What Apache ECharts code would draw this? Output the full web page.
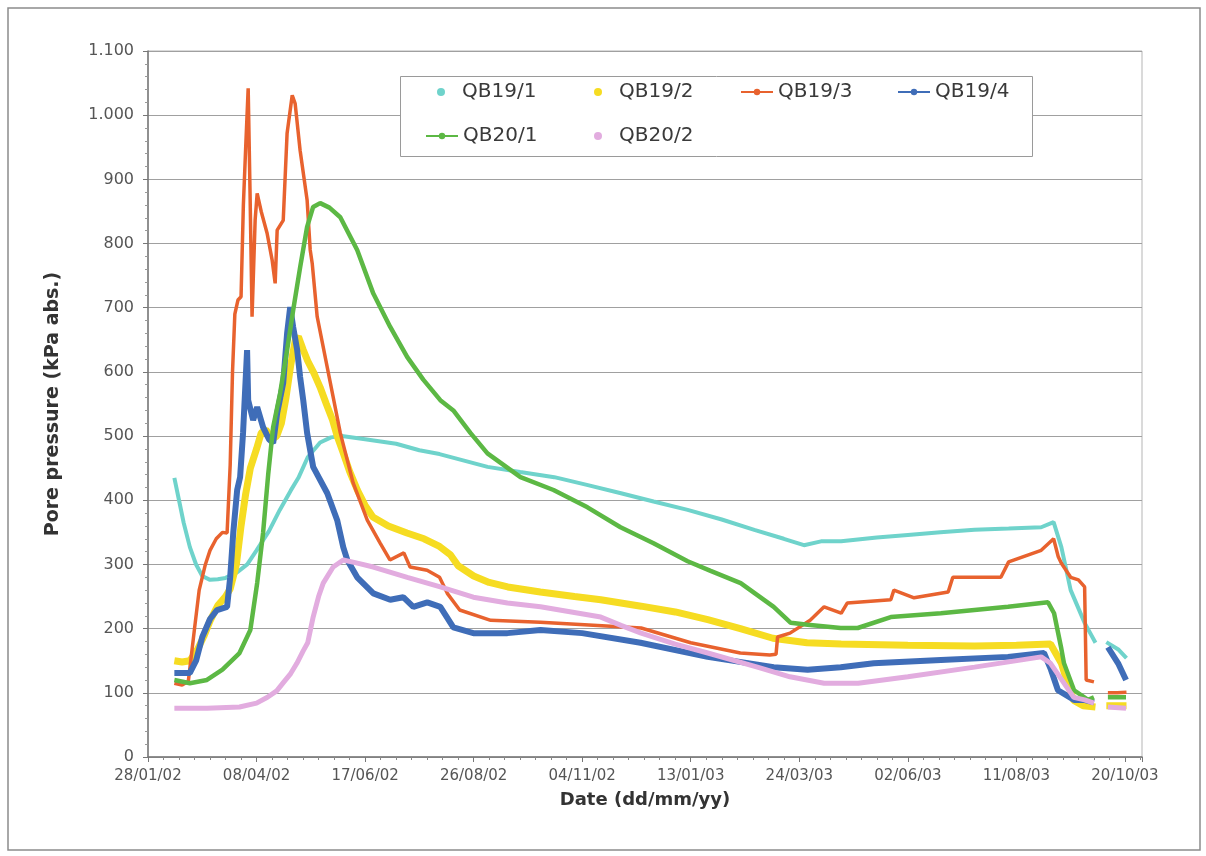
<!DOCTYPE html>
<html><head><meta charset="utf-8">
<script src="https://cdn.jsdelivr.net/npm/echarts@6/dist/echarts.min.js"></script>
<style>html,body{margin:0;padding:0;background:#fff}#c{width:1206px;height:856px}</style>
</head><body><div id="c"></div>
<script>
// Day 0 = 28/01/02; x values are days since that date, y values kPa abs.
const START_DATE = Date.UTC(2002, 0, 28);
const seriesNames = ['QB19/1', 'QB19/2', 'QB19/3', 'QB19/4', 'QB20/1', 'QB20/2'];

const qb19_1 = [[17,435],[20,400],[23,365],[27,327],[31,300],[35,282],[40,276],[45,277],[50,279],[57,287],[64,300],[70,322],[78,352],[85,385],[92,415],[97,435],[103,467],[111,490],[118,498],[125,500],[140,495],[160,488],[175,478],[188,472],[219,452],[240,444],[262,436],[283,424],[305,411],[326,398],[348,385],[370,370],[391,354],[410,340],[423,330],[434,336],[447,336],[470,342],[490,346],[511,350],[533,354],[555,356],[576,358],[584,366],[589,327],[595,260],[604,209],[611,178],[614,null],[618,179],[626,167],[631,154]];

const qb19_2 = [[17,150],[22,148],[27,150],[32,168],[36,188],[40,212],[45,236],[50,250],[53,262],[57,300],[60,360],[63,410],[66,450],[70,480],[73,505],[76,510],[80,495],[83,500],[86,520],[89,560],[92,610],[95,650],[97,655],[100,635],[103,617],[107,598],[111,576],[115,550],[119,525],[122,500],[126,473],[130,445],[135,416],[140,392],[145,374],[155,360],[167,349],[178,340],[188,328],[195,315],[200,298],[210,282],[220,272],[232,265],[253,257],[275,250],[292,245],[318,235],[340,226],[361,214],[382,200],[403,185],[425,178],[447,176],[490,174],[533,173],[560,174],[582,176],[589,146],[593,115],[597,88],[603,80],[611,78],[614,null],[618,80],[624,80],[631,80]];

const qb19_3 = [[17,115],[22,112],[26,118],[30,200],[33,260],[37,300],[40,322],[44,340],[48,350],[51,349],[53,455],[54.5,600],[56,690],[58,712],[60,717],[61.5,860],[63,950],[64.6,1042],[65.8,880],[67.1,686],[69.1,837],[70.4,878],[73,850],[76.8,816],[80,775],[82,738],[83.3,821],[87.2,836],[89.7,972],[93,1031],[94.9,1018],[98.1,945],[102.6,868],[104.6,790],[105.9,769],[109.1,686],[115.6,607],[124,505],[132.3,427],[141.4,369],[149.8,333],[156,307],[165,318],[169,296],[180,291],[188,280],[193,255],[201,229],[221,213],[253,210],[290,205],[318,201],[350,178],[382,162],[401,159],[405,160],[406,187],[414,193],[427,213],[436,234],[447,224],[451,240],[479,245],[481,260],[494,248],[516,257],[519,280],[550,280],[555,304],[576,322],[584,340],[587,312],[589,302],[595,280],[600,276],[604,265],[605,120],[610,117],[614,null],[619,100],[625,100],[631,101]];

const qb19_4 = [[17,131],[22,131],[27,131],[31,150],[35,187],[40,215],[44.5,229],[51,234],[53,280],[55,350],[57.5,416],[59.4,436],[61.3,505],[63.9,634],[64.6,556],[67.8,525],[70.4,545],[74.2,514],[78,495],[80.7,489],[83.3,536],[87.2,583],[89.7,660],[91.7,701],[93.6,670],[96.2,634],[98.1,592],[100.1,556],[102.6,505],[106.5,452],[115.6,411],[122,369],[125.9,327],[128.5,307],[134.9,280],[145.3,255],[156.2,245],[164.6,249],[171.1,234],[180.1,241],[188.5,234],[196.9,202],[209.8,193],[231.8,193],[253.1,198],[280,193],[317.6,178],[360.9,156],[403.5,140],[425.4,136],[446.7,140],[468,146],[511.3,151],[554.6,156],[577.8,162],[582.3,136],[586.8,104],[597.2,89],[603.6,89],[610,85],[614,null],[619,171],[625.6,146],[630.7,120]];

const qb20_1 = [[17,120],[27,115],[38,120],[48,136],[59,162],[66,198],[70.4,271],[74.2,349],[77.5,440],[80.7,514],[85.2,567],[89.7,634],[93.6,696],[98.1,763],[102.6,826],[106.5,857],[111,863],[117,856],[124,841],[134.9,790],[145.3,722],[156.2,670],[167.2,623],[177.5,588],[188.5,556],[196.9,540],[207.9,505],[218.9,473],[240.2,436],[261.5,416],[283.4,389],[304.7,358],[326,333],[348,305],[362.8,290],[382.2,271],[403.5,234],[414.5,209],[425.4,206],[446.7,201],[457.7,201],[479,218],[511.3,224],[554.6,234],[580.4,241],[584.3,224],[588.8,171],[590.7,146],[597.2,104],[606.2,89],[610,93],[614,null],[619,93],[630.7,93]];

const qb20_2 = [[17,76],[38,76],[59,78],[70,84],[77,93],[83,103],[87,115],[92,130],[96,146],[100,165],[103,178],[106.5,218],[110,250],[113,271],[119.4,296],[125.9,307],[135,302],[145.3,296],[167.2,280],[188.5,265],[209.8,249],[231.8,240],[253.1,234],[292,218],[305,205],[318,193],[340,176],[361,162],[393,140],[414,125],[436,115],[458,115],[490,125],[533,140],[576,156],[582,146],[597,93],[604,89],[610,84],[614,null],[619,78],[630.7,76]];

const X_MIN = 0, X_MAX = 641, X_INTERVAL = 70;
const Y_MIN = 0, Y_MAX = 1100, Y_INTERVAL = 100;

const seriesData = [qb19_1, qb19_2, qb19_3, qb19_4, qb20_1, qb20_2];
const colors = ['#6fd3cb', '#f6dc22', '#e8622e', '#3f6db8', '#5cb844', '#e2acdf'];
const widths = [4, 7, 3.5, 6, 4.5, 5];
// legend: marker-only entries vs line+marker entries
const legendIcons = ['circle', 'circle', null, null, null, 'circle'];

function pad2(n) { return (n < 10 ? '0' : '') + n; }
function dayLabel(d) {
  const dt = new Date(START_DATE + Math.round(d) * 86400000);
  return pad2(dt.getUTCDate()) + '/' + pad2(dt.getUTCMonth() + 1) + '/' + pad2(dt.getUTCFullYear() % 100);
}
function kpaLabel(v) {
  if (v >= 1000) return Math.floor(v / 1000) + '.' + String(v % 1000).padStart(3, '0');
  return String(v);
}

const FONT = 'DejaVu Sans';
const chart = echarts.init(document.getElementById('c'), null, { renderer: 'canvas' });

const series = seriesNames.map((name, i) => ({
  name,
  type: 'line',
  data: seriesData[i].map(p => [p[0], p[1] === null ? '-' : p[1]]),
  symbol: 'circle',
  symbolSize: 5,
  showSymbol: false,
  connectNulls: false,
  lineStyle: { color: colors[i], width: widths[i] },
  itemStyle: { color: colors[i] },
  emphasis: { disabled: true },
  animation: false,
  z: 2 + i * 0.01
}));

// legend layout: 4 columns, 2 rows inside a framed box
const LEG_COL_X = [425, 582, 740, 897];
const LEG_ROW_Y = [82, 126];
const legends = seriesNames.map((name, i) => {
  const col = i % 4, row = Math.floor(i / 4);
  const icon = legendIcons[i];
  const item = icon ? { name, icon, itemStyle: { color: colors[i] } } : { name };
  return {
    orient: 'horizontal',
    padding: 0,
    itemWidth: 32,
    itemHeight: 8,
    selectedMode: false,
    z: 10,
    left: LEG_COL_X[col] + (icon ? 12 : 0),
    top: LEG_ROW_Y[row],
    lineStyle: { width: 2 },
    textStyle: { fontFamily: FONT, fontSize: 20, color: '#3a3a3a' },
    data: [item]
  };
});

chart.setOption({
  backgroundColor: '#ffffff',
  animation: false,
  color: colors,
  grid: { left: 148, right: 64, top: 51, bottom: 99, show: true, borderColor: '#b5b5b5', borderWidth: 1, backgroundColor: 'transparent' },
  xAxis: {
    type: 'value', min: X_MIN, max: X_MAX, interval: X_INTERVAL,
    name: 'Date (dd/mm/yy)', nameLocation: 'middle', nameGap: 34,
    nameTextStyle: { fontFamily: FONT, fontSize: 18, fontWeight: 'bold', color: '#333' },
    axisLine: { show: true, lineStyle: { color: '#777', width: 1.5 } },
    axisTick: { show: true, length: 5, lineStyle: { color: '#777' } },
    minorTick: { show: true, splitNumber: 7, length: 3, lineStyle: { color: '#888' } },
    axisLabel: { formatter: dayLabel, fontFamily: FONT, fontSize: 15, color: '#555', margin: 12, showMaxLabel: false },
    splitLine: { show: false }
  },
  yAxis: {
    type: 'value', min: Y_MIN, max: Y_MAX, interval: Y_INTERVAL,
    name: 'Pore pressure (kPa abs.)', nameLocation: 'middle', nameGap: 85, nameRotate: 90,
    nameTextStyle: { fontFamily: FONT, fontSize: 19, fontWeight: 'bold', color: '#333' },
    axisLine: { show: true, lineStyle: { color: '#777', width: 1.5 } },
    axisTick: { show: true, length: 5, lineStyle: { color: '#777' } },
    minorTick: { show: true, splitNumber: 5, length: 3, lineStyle: { color: '#999' } },
    axisLabel: { formatter: kpaLabel, fontFamily: FONT, fontSize: 16, color: '#555', margin: 14 },
    splitLine: { show: true, lineStyle: { color: '#a0a0a0', width: 1 } }
  },
  legend: legends,
  graphic: [
    { type: 'rect', z: 9, shape: { x: 400.5, y: 76.5, width: 632, height: 80 }, style: { fill: '#fff', stroke: '#9a9a9a', lineWidth: 1 } },
    { type: 'rect', z: 0, silent: true, shape: { x: 8, y: 8, width: 1192, height: 842 }, style: { fill: 'none', stroke: '#8c8c8c', lineWidth: 1.5 } }
  ],
  series
});
</script>
</body></html>
